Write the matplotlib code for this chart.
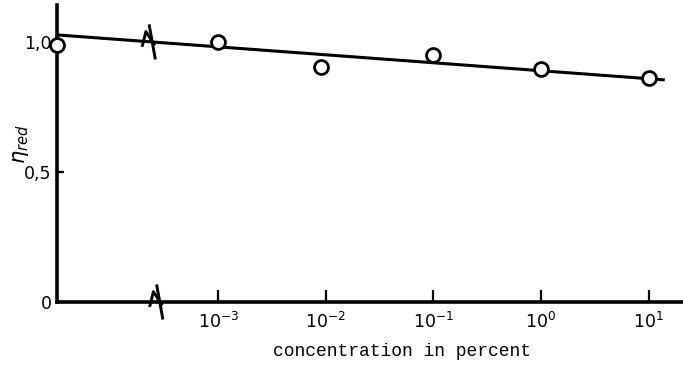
import numpy as np
import matplotlib.pyplot as plt
from matplotlib.transforms import Affine2D

# concentration in percent (0 sits at the left, before the axis break)
conc = [0, 1e-3, 9e-3, 1e-1, 1e0, 1e1]
eta_red = [0.99, 1.0, 0.905, 0.95, 0.895, 0.862]

# hand drawn trend line, ends in decades of concentration
fit_dec = [-4.5, 1.15]
fit_eta = [1.027, 0.854]

tick_dec = [-3, -2, -1, 0, 1]
tick_labels = ['$10^{-3}$', '$10^{-2}$', '$10^{-1}$', '$10^{0}$', '$10^{1}$']

ZERO_POS = -4.5
BREAK_POS = -3.62


def to_dec(c):
    return ZERO_POS if c == 0 else np.log10(c)


x = [to_dec(c) for c in conc]

fig = plt.figure(figsize=(6.83, 3.71), dpi=100)
ax = fig.add_axes([57 / 683, 1 - 302 / 371, 626 / 683, 297 / 371])
ax.set_xlim(-4.5, 1.32)
ax.set_ylim(0, 1.142)

ax.plot(fit_dec, fit_eta, color='black', lw=2.2, solid_capstyle='butt', clip_on=False)
ax.plot(x, eta_red, 'o', ms=10, mfc='white', mec='black', mew=2.0, clip_on=False, zorder=3)


def break_mark(bx, by):
    # hand drawn break sign, sizes in pixels around the crossing point
    ox, oy = ax.transData.transform((bx, by))
    tr = Affine2D().scale(1.15).translate(ox, oy)
    for xs, ys in [([-8, -5, 2], [-3, 9, -2]), ([-2, 3], [14, -14])]:
        ax.plot(xs, ys, color='black', lw=2.1, transform=tr, clip_on=False, zorder=4)


break_mark(BREAK_POS, np.interp(BREAK_POS, fit_dec, fit_eta))
break_mark(BREAK_POS + 0.07, 0)

for s in ['top', 'right']:
    ax.spines[s].set_visible(False)
for s in ['left', 'bottom']:
    ax.spines[s].set_linewidth(2.6)

ax.set_xticks(tick_dec, tick_labels)
ax.set_yticks([0, 0.5, 1.0], ['0', '0,5', '1,0'])
ax.tick_params(axis='x', direction='in', length=9, width=1.6, pad=7, labelsize=12.5)
ax.tick_params(axis='y', direction='in', length=5, width=1.6, pad=4, labelsize=12.5)
ax.yaxis.get_major_ticks()[2].tick1line.set_visible(False)

ax.set_ylabel(r'$\eta_{red}$', fontsize=15, rotation=90)
ax.yaxis.set_label_coords(-0.042, 0.53)
ax.set_xlabel('concentration in percent', family='Liberation Mono', fontsize=13, va='center')
ax.xaxis.set_label_coords((402 - 57) / 626, (302 - 352) / 297)

fig.savefig('out.png', dpi=100)
